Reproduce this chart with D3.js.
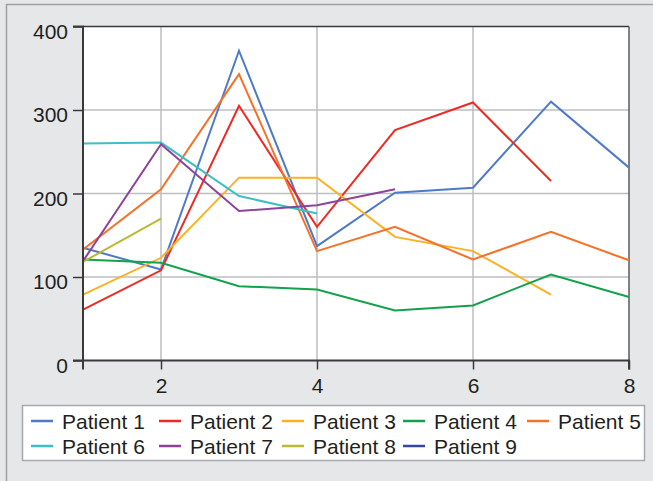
<!DOCTYPE html>
<html>
<head>
<meta charset="utf-8">
<script src="https://cdn.jsdelivr.net/npm/d3@7"></script>
<style>
  html, body { margin: 0; padding: 0; background: #e6e7e9; }
  svg { display: block; }
  text { font-family: "Liberation Sans", Arial, sans-serif; fill: #231f20; }
</style>
</head>
<body>
<svg id="chart" width="653" height="481"></svg>
<script>
// ---- Data ----
const seriesNames = ["Patient 1","Patient 2","Patient 3","Patient 4","Patient 5","Patient 6","Patient 7","Patient 8","Patient 9"];
const seriesColors = ["#4e7ac7","#ee2a24","#fbb123","#13a24b","#f47127","#3dbfc4","#8d4399","#bcb833","#3446a8"];
const p1x = [1,2,3,4,5,6,7,8], p1y = [135,109,371,137,201,207,310,231];
const p2x = [1,2,3,4,5,6,7],   p2y = [61,108,305,160,276,309,215];
const p3x = [1,2,3,4,5,6,7],   p3y = [79,123,219,219,148,131,79];
const p4x = [1,2,3,4,5,6,7,8], p4y = [121,117,89,85,60,66,103,76];
const p5x = [1,2,3,4,5,6,7,8], p5y = [133,205,343,131,160,121,154,120];
const p6x = [1,2,3,4],         p6y = [260,261,197,176];
const p7x = [1,2,3,4,5],       p7y = [119,259,179,186,205];
const p8x = [1,2],             p8y = [118,170];
const p9x = [1,1],             p9y = [62,55];
const xTicks = [2,4,6,8];
const yTicks = [0,100,200,300,400];
const gridX = [2,4,6];
const gridY = [100,200,300];

const allX = [p1x,p2x,p3x,p4x,p5x,p6x,p7x,p8x,p9x];
const allY = [p1y,p2y,p3y,p4y,p5y,p6y,p7y,p8y,p9y];
const series = seriesNames.map((n,i) => ({name:n, color:seriesColors[i],
  pts: allX[i].map((x,j) => ({x:x, y:allY[i][j]}))}));

// ---- Layout ----
const svg = d3.select("#chart");
const L = 83, R = 629, T = 26.5, B = 360.5;
const x = d3.scaleLinear().domain([1,8]).range([L,R]);
const y = d3.scaleLinear().domain([0,400]).range([B,T]);

// outer panel border
svg.append("rect").attr("x",6.5).attr("y",4.5).attr("width",700).attr("height",520)
  .attr("fill","#e6e7e9").attr("stroke","#9d9fa2").attr("stroke-width",1.5);

// plot background
svg.append("rect").attr("x",L).attr("y",T).attr("width",R-L).attr("height",B-T).attr("fill","#ffffff");

// grid
svg.append("g").selectAll("line").data(gridX).join("line")
  .attr("x1",d=>x(d)).attr("x2",d=>x(d)).attr("y1",T).attr("y2",B)
  .attr("stroke","#bcbec0").attr("stroke-width",1.5);
svg.append("g").selectAll("line").data(gridY).join("line")
  .attr("x1",L).attr("x2",R).attr("y1",d=>y(d)).attr("y2",d=>y(d))
  .attr("stroke","#bcbec0").attr("stroke-width",1.5);

// frame top/right
svg.append("line").attr("x1",L).attr("x2",R).attr("y1",T).attr("y2",T).attr("stroke","#3a3a3c").attr("stroke-width",1.5);
svg.append("line").attr("x1",R).attr("x2",R).attr("y1",T).attr("y2",B).attr("stroke","#5a5a5c").attr("stroke-width",1.5);

// series lines
const line = d3.line().x(d=>x(d.x)).y(d=>y(d.y));
svg.append("g").selectAll("path").data(series).join("path")
  .attr("d",d=>line(d.pts)).attr("fill","none")
  .attr("stroke",d=>d.color).attr("stroke-width",2).attr("stroke-linejoin","miter");

// axes
const yAxis = d3.axisLeft(y).tickValues(yTicks).tickSize(10).tickPadding(5).tickFormat(d3.format("d"));
const gy = svg.append("g").attr("transform",`translate(${L},0)`).call(yAxis);
const xAxis = d3.axisBottom(x).tickValues(xTicks).tickSize(9).tickPadding(9).tickFormat(d3.format("d"));
const gx = svg.append("g").attr("transform",`translate(0,${B})`).call(xAxis);
[gy,gx].forEach(g => {
  g.select(".domain").attr("stroke","#3a3a3c").attr("stroke-width",2);
  g.selectAll(".tick line").attr("stroke","#3a3a3c").attr("stroke-width",1.5);
  g.selectAll(".tick text").attr("font-size",21).attr("fill","#231f20")
    .attr("font-family","'Liberation Sans', Arial, sans-serif");
});
gy.selectAll(".tick text").attr("dy","0.55em");
gy.select(".domain").attr("d",`M-10,${T}H0V${B}H-10`);
gx.select(".domain").attr("d",`M${L},9V0H${R}V9`);

// legend
svg.append("rect").attr("x",22.5).attr("y",405.5).attr("width",622).attr("height",55)
  .attr("fill","#ffffff").attr("stroke","#a7a9ac").attr("stroke-width",1.5);
const colX = [31,159,282,403,527];
const rowY = [421,446];
const lg = svg.append("g").selectAll("g").data(series).join("g")
  .attr("transform",(d,i)=>`translate(${colX[i%5]},${rowY[Math.floor(i/5)]})`);
lg.append("line").attr("x1",0).attr("x2",22).attr("y1",0).attr("y2",0)
  .attr("stroke",d=>d.color).attr("stroke-width",2.5);
lg.append("text").attr("x",31).attr("y",8).attr("font-size",21).text(d=>d.name);
</script>
</body>
</html>
